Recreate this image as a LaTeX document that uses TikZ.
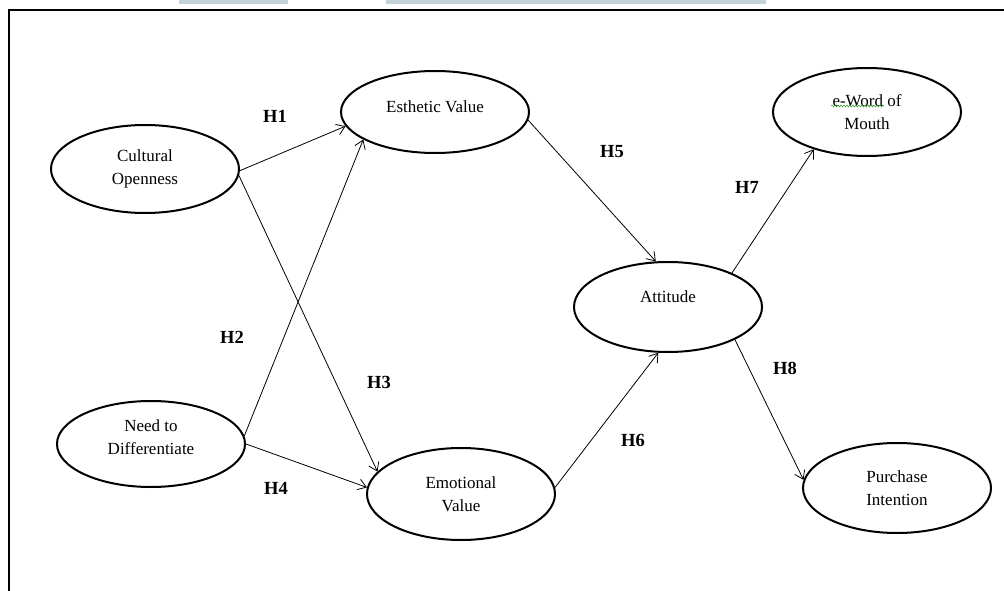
\documentclass[tikz,border=0pt]{standalone}
\usepackage{fontspec}
\setmainfont{Liberation Serif}
\usetikzlibrary{shapes.geometric,arrows.meta,decorations.pathmorphing}
\definecolor{scanmark}{RGB}{195,210,216}
\definecolor{spellgreen}{RGB}{60,160,60}
\tikzset{
    construct/.style={draw,ellipse,line width=2pt,inner sep=0pt,minimum width=188pt,minimum height=88pt,align=center,font=\fontsize{17}{23}\selectfont},
    hyp/.style={font=\fontsize{18.5}{20}\selectfont\bfseries},
    link/.style={->,line width=0.8pt,>={Straight Barb[length=8pt,width=11pt]}},
    spell/.style={spellgreen,line width=0.6pt,decorate,decoration={snake,amplitude=0.9pt,segment length=3pt}}
}
\begin{document}
\begin{tikzpicture}[x=1pt,y=-1pt]
    \useasboundingbox (0,0) rectangle (1004,591);
    % page marks and frame
    \fill[scanmark] (179,0) rectangle (288,4);
    \fill[scanmark] (386,0) rectangle (766,4);
    \draw[line width=2.5pt] (9,591) -- (9,10) -- (1004,10);
    % constructs
    \node[construct] (co) at (145,169) {Cultural\\Openness};
    \node[construct,minimum height=82pt] (ev) at (435,112) {\raisebox{10pt}{Esthetic Value}};
    \node[construct] (ewom) at (867,112) {e-Word of\\Mouth};
    \node[construct,minimum height=90pt] (att) at (668,307) {\raisebox{20pt}{Attitude}};
    \node[construct,minimum height=86pt] (nd) at (151,444) {\raisebox{6pt}[\height][\depth]{\begin{tabular}{@{}c@{}}Need to\\Differentiate\end{tabular}}};
    \node[construct,minimum height=92pt] (emo) at (461,494) {Emotional\\Value};
    \node[construct,minimum height=90pt] (pi) at (897,488) {Purchase\\Intention};
    \draw[spell] (831,106) -- (884,106);
    % paths
    \draw[link] (co.-1) -- (ev.189);
    \draw[link] (co.-4) -- (emo.165);
    \draw[link] (nd.5) -- (ev.201);
    \draw[link] (nd.0) -- (emo.176);
    \draw[link] (ev.-5) -- (att.105);
    \draw[link] (emo.4) -- (att.258);
    \draw[link] (att.28) -- (ewom.215);
    \draw[link] (att.-26) -- (pi.175);
    % hypotheses
    \node[hyp] (h1) at (275,116) {H1};
    \node[hyp] (h2) at (232,337) {H2};
    \node[hyp] (h3) at (379,382) {H3};
    \node[hyp] (h4) at (276,488) {H4};
    \node[hyp] (h5) at (612,152) {H5};
    \node[hyp] (h6) at (633,440) {H6};
    \node[hyp] (h7) at (747,187) {H7};
    \node[hyp] (h8) at (785,368) {H8};
\end{tikzpicture}
\end{document}
